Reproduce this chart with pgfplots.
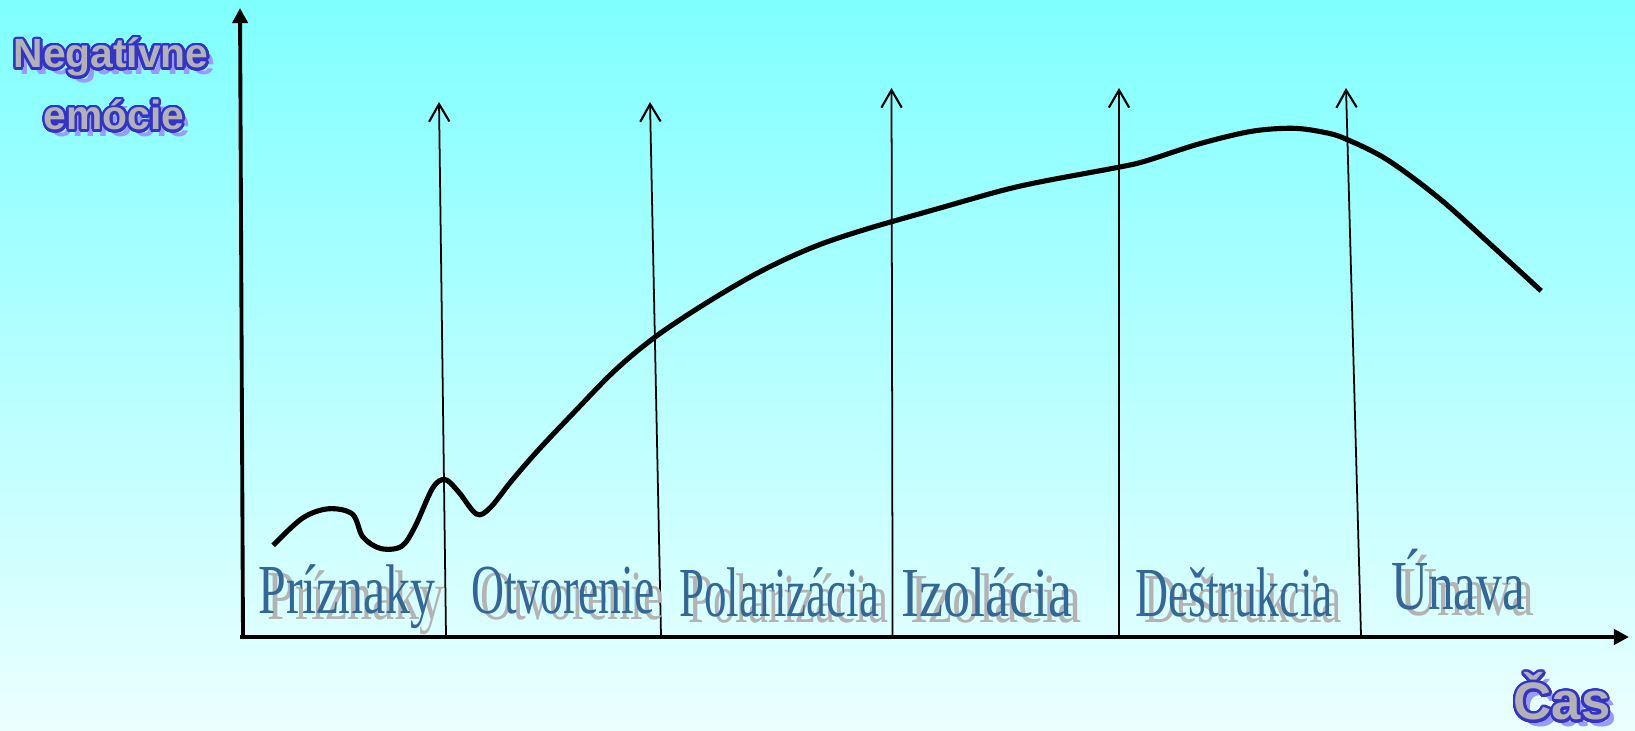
\documentclass[border=0pt]{standalone}
\usepackage{pgfplots}
\pgfplotsset{compat=1.18}
\usetikzlibrary{arrows.meta}
\usepackage{fontspec}
\setmainfont{Liberation Serif}
\newfontfamily\lsans{Liberation Sans}
\usepackage[copies]{contour}
\contournumber{32}
\contourlength{0.7pt}
\definecolor{bgtop}{HTML}{7FFFFF}
\definecolor{bgbot}{HTML}{EBFFFF}
\definecolor{txtblue}{HTML}{336699}
\definecolor{shgray}{HTML}{B3B3B3}
\definecolor{fillgray}{HTML}{B2B2B2}
\definecolor{outblue}{HTML}{3333CC}
\definecolor{shlav}{HTML}{9999FF}
\newcommand{\catfont}{\fontsize{20}{24}\selectfont}
\newcommand{\catlabel}[4]{%
  \node[anchor=base, text=shgray, inner sep=0pt, xshift=2.6pt, yshift=-1.6pt] at (axis cs:#1,#2) {\catfont\scalebox{#4}[1]{#3}};
  \node[anchor=base, text=txtblue, inner sep=0pt] at (axis cs:#1,#2) {\catfont\scalebox{#4}[1]{#3}};}
\newcommand{\axlabel}[4]{%
  \node[anchor=base, text=shlav, inner sep=0pt, xshift=1.8pt, yshift=-1.8pt] at (axis cs:#1,#2) {\lsans\bfseries\fontsize{#3}{#3}\selectfont #4};
  \node[anchor=base, inner sep=0pt] at (axis cs:#1,#2) {\lsans\bfseries\fontsize{#3}{#3}\selectfont\textcolor{fillgray}{\contour{outblue}{#4}}};}
\begin{document}
\begin{tikzpicture}
\begin{axis}[width=16.35cm, height=7.31cm, scale only axis,
  xmin=0, xmax=1635, ymin=0, ymax=731, hide axis, clip=false]
\fill[top color=bgtop, bottom color=bgbot] (axis cs:0,0) rectangle (axis cs:1635,731);
\coordinate (bl) at (axis cs:0,0);
\coordinate (tr) at (axis cs:1635,731);
% axes
\addplot[line width=1.1pt, -{Triangle[length=4.3pt, width=4.3pt]}] coordinates {(243,94) (240,723)};
\addplot[line width=1.1pt, -{Triangle[length=4.3pt, width=4.3pt]}] coordinates {(240,94) (1629,94)};
% phase arrows
\addplot[line width=0.5pt, -{Straight Barb[length=5pt, width=5.8pt, line width=0.6pt]}] coordinates {(446,95) (439,629)};
\addplot[line width=0.5pt, -{Straight Barb[length=5pt, width=5.8pt, line width=0.6pt]}] coordinates {(661,95) (650,629)};
\addplot[line width=0.5pt, -{Straight Barb[length=5pt, width=5.8pt, line width=0.6pt]}] coordinates {(892.6,95) (891.5,643)};
\addplot[line width=0.5pt, -{Straight Barb[length=5pt, width=5.8pt, line width=0.6pt]}] coordinates {(1119,95) (1119,643)};
\addplot[line width=0.5pt, -{Straight Barb[length=5pt, width=5.8pt, line width=0.6pt]}] coordinates {(1361,95) (1346,643)};
% curve
\addplot[black, line width=1.45pt, smooth, tension=0.55] coordinates {
(273.2,185.7) (302.4,212.8) (328.5,222.2) (352.4,216.9) (362.9,194.0)
(380.6,182.5) (401.4,184.6) (415.0,204.4) (432.7,243.0) (445.2,251.4)
(458.8,238.8) (476.5,216.9) (490.1,223.2) (510.9,249.3) (537.0,279.5)
(573.5,318.1) (615.2,360.8) (656.9,395.3) (709.0,429.7) (761.2,459.9)
(813.3,483.9) (865.4,501.6) (938.4,522.5) (1001.0,540.2) (1042.7,549.6)
(1120.9,564.2) (1147.0,570.4) (1199.1,587.1) (1251.2,599.6) (1292.9,602.7)
(1324.2,598.6) (1345.1,592.3) (1386.8,571.5) (1438.9,532.9) (1491.1,486.0)
(1541.1,440.1)};
% phase labels
\catlabel{347}{117}{Príznaky}{0.71}
\catlabel{563}{117}{Otvorenie}{0.65}
\catlabel{779}{114}{Polarizácia}{0.64}
\catlabel{987}{114}{Izolácia}{0.77}
\catlabel{1234}{114}{Deštrukcia}{0.65}
\catlabel{1458}{121}{Únava}{0.73}
% axis labels
\axlabel{111}{663}{11.6pt}{Negatívne}
\axlabel{114}{601}{11.6pt}{emócie}
\axlabel{1562}{11}{15pt}{Čas}
\end{axis}
\pgfresetboundingbox
\path[use as bounding box] (bl) rectangle (tr);
\end{tikzpicture}
\end{document}
